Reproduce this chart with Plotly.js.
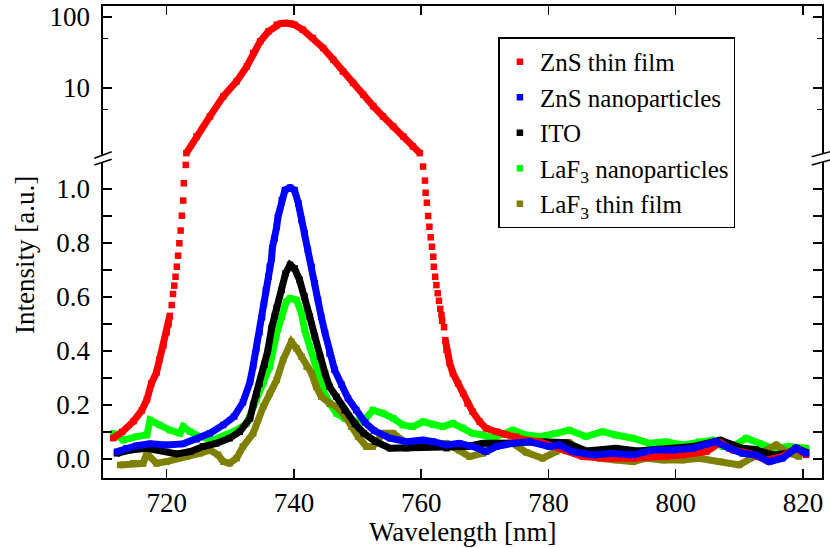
<!DOCTYPE html>
<html>
<head>
<meta charset="utf-8">
<script src="https://cdn.plot.ly/plotly-3.0.1.min.js"></script>
<style>html,body{margin:0;padding:0;background:#fff;}</style>
</head>
<body>
<div id="chart" style="width:830px;height:548px;"></div>
<script>
// ---------- DATA ----------
const seriesNames = ["ZnS thin film", "ZnS nanoparticles", "ITO", "LaF<sub>3</sub> nanoparticles", "LaF<sub>3</sub> thin film"];

// ZnS thin film (red) - lower (linear) part, left flank
const redLeftX = [711.6,713.0,714.8,716.1,716.9,717.6,718.4,718.9,719.5,720.0,720.3,720.5];
const redLeftY = [0.077,0.100,0.140,0.180,0.220,0.280,0.320,0.370,0.420,0.470,0.500,0.530];
// left flank, sparse points
const redLeftDotX = [720.8,721.0,721.2,721.4,721.6,721.8,722.0,722.2,722.4,722.6,722.7,723.0];
const redLeftDotY = [0.570,0.611,0.642,0.675,0.712,0.753,0.799,0.846,0.901,0.957,1.021,1.089];
// upper (log) part
const redTopX = [723.1,724.7,726.8,728.9,731.0,732.6,733.6,734.7,736.0,737.3,737.9,738.8,739.5,740.1,741.4,743.0,744.6,746.2,747.7,749.3,750.9,752.5,754.0,755.6,757.2,758.7,759.8];
const redTopY = [1.21,2.08,3.98,7.62,12.4,20.1,31.1,45.3,62.7,77.9,80.8,82.3,81.0,77.9,66.2,50.6,36.6,25.0,17.1,11.8,8.05,5.51,3.98,2.88,2.08,1.50,1.21];
// right flank, sparse points
const redRightDotX = [760.3,760.6,760.7,760.9,761.1,761.3,761.5,761.7,761.9,762.0,762.2,762.4,762.6,762.8,763.0,763.2,763.3,763.6];
const redRightDotY = [1.083,1.031,0.986,0.949,0.900,0.860,0.821,0.786,0.749,0.712,0.675,0.644,0.614,0.586,0.556,0.533,0.512,0.488];
// right flank and tail
const redRightX = [763.8,764.0,764.5,765.0,765.8,766.6,767.3,768.1,769.2,770.2,771.8,773.4,774.9,776.5,778.6,780.7,782.8,785.4,789.1,793.3,798.5,801.1,804.8,807.0,809.0,811.6,814.2,816.8,818.9,820.5];
const redRightY = [0.440,0.404,0.354,0.317,0.280,0.243,0.206,0.175,0.138,0.114,0.101,0.090,0.083,0.070,0.064,0.050,0.030,0.009,0.003,0.003,0.009,0.015,0.027,0.060,0.033,0.021,-0.004,0.009,0.040,0.015];

// ZnS nanoparticles (blue)
const blueX = [712.2,713.7,715.3,717.4,720.0,722.6,724.7,726.8,728.9,730.6,732.0,733.1,733.6,734.1,734.6,735.0,735.3,735.6,736.0,736.2,736.5,736.6,737.0,737.3,737.5,738.1,738.6,739.4,740.1,740.7,741.2,741.7,742.2,742.8,743.3,743.8,744.3,744.9,745.6,746.4,747.5,748.5,749.8,751.2,752.6,755.1,757.7,760.3,761.9,764.0,766.0,768.1,770.2,771.8,774.4,777.0,780.2,781.7,783.8,787.0,790.1,793.3,796.4,799.5,802.7,806.3,808.4,810.5,812.6,814.7,816.8,818.9,820.5];
const blueY = [0.027,0.040,0.049,0.056,0.052,0.056,0.073,0.095,0.126,0.157,0.210,0.285,0.345,0.410,0.470,0.525,0.577,0.626,0.675,0.712,0.743,0.780,0.817,0.860,0.897,0.959,0.996,1.005,0.996,0.947,0.885,0.836,0.774,0.712,0.651,0.589,0.527,0.466,0.391,0.330,0.275,0.225,0.181,0.135,0.105,0.077,0.064,0.070,0.064,0.052,0.058,0.046,0.027,0.046,0.058,0.064,0.046,0.052,0.027,0.015,0.021,0.015,0.033,0.033,0.040,0.064,0.040,0.021,0.015,-0.010,0.003,0.040,0.021];

// ITO (black)
const blackX = [712.2,714.2,716.9,718.9,721.6,723.7,725.7,727.8,729.9,731.5,733.1,733.6,734.1,734.6,735.4,735.9,736.5,737.0,737.3,738.1,738.7,739.4,740.1,740.9,741.7,742.5,743.3,744.1,744.9,745.6,746.7,748.0,749.6,751.0,752.8,755.1,757.7,760.8,764.0,767.1,769.7,773.4,778.6,782.8,786.0,790.6,794.0,798.0,802.7,807.0,810.5,812.5,815.2,817.5,819.0,820.5];
const blackY = [0.021,0.033,0.040,0.033,0.019,0.027,0.046,0.058,0.077,0.101,0.150,0.200,0.240,0.280,0.350,0.400,0.485,0.530,0.560,0.626,0.688,0.719,0.706,0.663,0.601,0.527,0.453,0.379,0.317,0.268,0.230,0.180,0.130,0.095,0.065,0.040,0.040,0.046,0.040,0.046,0.058,0.058,0.065,0.060,0.030,0.040,0.030,0.035,0.046,0.070,0.040,0.035,0.015,0.020,0.040,0.025];

// LaF3 nanoparticles (green)
const greenX = [711.6,713.2,715.3,716.9,717.4,718.9,720.5,722.1,722.6,723.7,725.2,727.3,729.4,731.0,732.6,734.1,735.2,736.2,737.3,738.1,738.8,739.4,740.4,741.2,741.7,742.5,743.3,743.8,744.6,745.6,746.7,748.0,749.5,751.0,752.4,754.0,755.6,757.1,758.7,760.3,761.9,763.4,765.0,766.6,768.1,769.7,771.3,772.5,774.4,776.5,778.6,781.2,783.3,785.9,788.5,790.6,793.3,795.9,798.5,801.1,803.7,805.8,807.4,809.0,811.1,813.2,815.2,817.9,820.5];
const greenY = [0.095,0.070,0.083,0.089,0.144,0.126,0.107,0.095,0.120,0.101,0.083,0.070,0.089,0.107,0.132,0.219,0.280,0.342,0.465,0.527,0.583,0.595,0.589,0.540,0.478,0.416,0.354,0.305,0.256,0.206,0.169,0.150,0.140,0.140,0.181,0.169,0.151,0.126,0.120,0.138,0.126,0.120,0.132,0.115,0.095,0.089,0.077,0.090,0.107,0.089,0.083,0.095,0.107,0.083,0.101,0.089,0.077,0.058,0.064,0.052,0.064,0.070,0.046,0.046,0.077,0.058,0.040,0.046,0.040];

// LaF3 thin film (olive)
const oliveX = [712.7,714.8,716.3,716.9,718.4,720.0,721.6,723.1,725.2,726.8,728.1,728.9,729.9,731.0,732.0,733.6,735.2,736.2,737.3,738.3,739.6,740.4,741.2,742.0,742.8,743.5,744.3,745.6,746.7,748.0,749.0,750.1,751.4,752.4,754.0,755.6,757.7,760.8,764.0,766.0,767.6,769.7,771.8,774.4,776.5,779.1,781.2,783.3,785.9,788.0,790.6,793.3,795.4,798.0,801.1,803.7,806.9,810.0,812.5,815.8,817.5,819.4];
const oliveY = [-0.022,-0.016,-0.016,0.021,-0.016,-0.010,0.003,0.009,0.021,0.033,0.015,-0.010,-0.016,0.003,0.046,0.095,0.194,0.243,0.293,0.367,0.434,0.410,0.379,0.342,0.317,0.268,0.231,0.206,0.194,0.160,0.120,0.083,0.046,0.046,0.095,0.095,0.058,0.046,0.058,0.033,0.009,0.021,0.058,0.058,0.025,0.003,0.027,0.060,0.015,0.003,-0.004,-0.010,0.003,-0.004,-0.004,0.003,-0.010,-0.022,0.010,0.052,0.025,0.009];

// axis ticks
const xTicks = [720, 740, 760, 780, 800, 820];
const yLinTicks = [0.0, 0.2, 0.4, 0.6, 0.8, 1.0];
const yLinMinor = [0.1, 0.3, 0.5, 0.7, 0.9];
const yLogTicks = [10, 100];
const yLogMinor = [5, 50];

const colors = {red:"#ff0000", blue:"#0000ff", black:"#000000", green:"#00ff00", olive:"#808000"};

// ---------- TRACES ----------
const FONT = "Liberation Serif";
const FS = 27;
const LEG_FS = 25;
function lineTrace(x, y, color, xa, ya) {
  return {x:x, y:y, type:"scatter", mode:"lines", line:{color:color, width:7},
          xaxis:xa, yaxis:ya, showlegend:false, hoverinfo:"skip", cliponaxis:true};
}
function markTrace(x, y, color, xa, ya, name, show, rank) {
  return {x:x, y:y, type:"scatter", mode:"markers", name:name,
          marker:{symbol:"square", size:6.5, color:color, line:{width:0}},
          xaxis:xa, yaxis:ya, showlegend:show, legendrank:rank, hoverinfo:"skip", cliponaxis:true};
}

const redLowX = redLeftX.concat(redLeftDotX, redRightDotX, redRightX);
const redLowY = redLeftY.concat(redLeftDotY, redRightDotY, redRightY);

const traces = [
  lineTrace(greenX, greenY, colors.green, "x", "y"),
  markTrace(greenX, greenY, colors.green, "x", "y", seriesNames[3], true, 4),
  lineTrace(oliveX, oliveY, colors.olive, "x", "y"),
  markTrace(oliveX, oliveY, colors.olive, "x", "y", seriesNames[4], true, 5),
  lineTrace(blackX, blackY, colors.black, "x", "y"),
  markTrace(blackX, blackY, colors.black, "x", "y", seriesNames[2], true, 3),
  lineTrace(redLeftX, redLeftY, colors.red, "x", "y"),
  lineTrace(redRightX, redRightY, colors.red, "x", "y"),
  markTrace(redLowX, redLowY, colors.red, "x", "y", seriesNames[0], true, 1),
  lineTrace(redTopX, redTopY, colors.red, "x2", "y2"),
  markTrace(redTopX, redTopY, colors.red, "x2", "y2", seriesNames[0], false, 1),
  lineTrace(blueX, blueY, colors.blue, "x", "y"),
  markTrace(blueX, blueY, colors.blue, "x", "y", seriesNames[1], true, 2)
];

// ---------- LAYOUT ----------
const L = 103, R = 822, T = 6, B = 478;
const W = R - L, H = B - T;
const fx = px => (px - L) / W;
const fy = py => (B - py) / H;
const split = fy(159);

const axisCommon = {
  showline:true, linecolor:"#000", linewidth:1.6,
  ticks:"inside", ticklen:9, tickwidth:1.6, tickcolor:"#000",
  showgrid:false, zeroline:false,
  tickfont:{family:FONT, size:FS, color:"#000"}
};

const breakLine = (x0,y0,x1,y1) => ({type:"line", xref:"paper", yref:"paper",
  x0:fx(x0), y0:fy(y0), x1:fx(x1), y1:fy(y1), line:{color:"#000", width:1.6}, layer:"above"});
const breakGap = (x0,y0,x1,y1) => ({type:"rect", xref:"paper", yref:"paper",
  x0:fx(x0), y0:fy(y0), x1:fx(x1), y1:fy(y1), fillcolor:"#fff", line:{width:0}, layer:"above"});

const layout = {
  width:830, height:548,
  margin:{l:L, r:830-R, t:T, b:548-B, pad:0},
  paper_bgcolor:"#fff", plot_bgcolor:"rgba(0,0,0,0)",
  font:{family:FONT, size:FS, color:"#000"},
  showlegend:true,
  xaxis:Object.assign({}, axisCommon, {
    domain:[0,1], anchor:"y", range:[710, 823], tickmode:"array", tickvals:xTicks,
    mirror:false, ticklabelstandoff:0
  }),
  xaxis2:Object.assign({}, axisCommon, {
    domain:[0,1], anchor:"y2", side:"top", range:[710, 823], tickmode:"array", tickvals:xTicks,
    showticklabels:false, mirror:false
  }),
  yaxis:Object.assign({}, axisCommon, {
    domain:[0, split], anchor:"x", range:[-0.0704, 1.111], tickmode:"array", tickvals:yLinTicks,
    tickformat:".1f", mirror:"ticks", ticklabelstandoff:6,
    minor:{tickmode:"array", tickvals:yLinMinor, ticks:"inside", ticklen:9, tickwidth:1.6, tickcolor:"#000", showgrid:false}
  }),
  yaxis2:Object.assign({}, axisCommon, {
    domain:[split, 1], anchor:"x2", type:"log", range:[0, 2.155], tickmode:"array", tickvals:yLogTicks,
    mirror:"ticks", ticklabelstandoff:6,
    minor:{tickmode:"array", tickvals:yLogMinor, ticks:"inside", ticklen:5, tickwidth:1.6, tickcolor:"#000", showgrid:false}
  }),
  legend:{
    x:fx(498.3), y:fy(37.3), xanchor:"left", yanchor:"top",
    bgcolor:"#fff", bordercolor:"#000", borderwidth:1.6,
    font:{family:FONT, size:LEG_FS, color:"#000"},
    itemwidth:30, tracegroupgap:0, itemsizing:"trace"
  },
  annotations:[
    {text:"Wavelength [nm]", xref:"paper", yref:"paper", x:fx(463), y:fy(532),
     xanchor:"center", yanchor:"middle", showarrow:false, font:{family:FONT, size:FS, color:"#000"}},
    {text:"Intensity [a.u.]", xref:"paper", yref:"paper", x:fx(25), y:fy(255),
     xanchor:"center", yanchor:"middle", textangle:-90, showarrow:false, font:{family:FONT, size:FS, color:"#000"}}
  ],
  shapes:[
    breakGap(98, 162, 107, 155.5),
    breakLine(94.3, 158.3, 111.7, 151.7),
    breakLine(94.3, 165, 111.7, 159.3),
    breakGap(818, 162, 827, 154),
    breakLine(811.7, 156.7, 832, 151.2),
    breakLine(811.7, 165, 832, 159.5)
  ]
};

Plotly.newPlot("chart", traces, layout, {staticPlot:true, displayModeBar:false});
</script>
</body>
</html>
